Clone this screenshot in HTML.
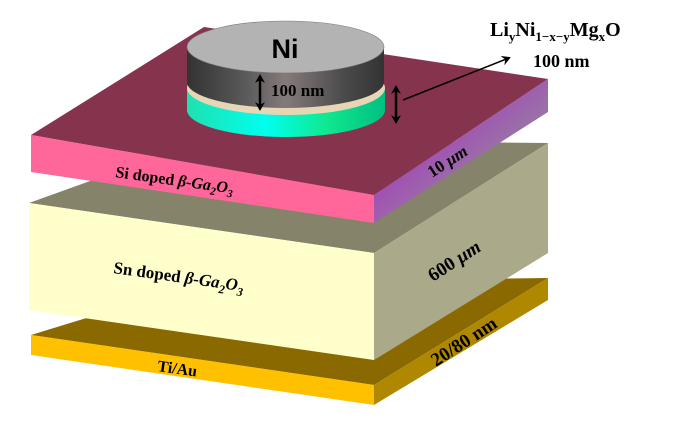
<!DOCTYPE html>
<html><head><meta charset="utf-8"><style>
html,body{margin:0;padding:0;background:#fff;width:674px;height:428px;overflow:hidden}
svg{display:block}
text{font-family:"Liberation Serif",serif;font-weight:bold;fill:#000}
</style></head><body>
<svg width="674" height="428" viewBox="0 0 674 428" xmlns="http://www.w3.org/2000/svg">
<defs>
<linearGradient id="gside" x1="0" y1="0" x2="1" y2="0">
<stop offset="0" stop-color="#333"/><stop offset="0.3" stop-color="#5a5a5a"/><stop offset="0.5" stop-color="#857a7a"/><stop offset="0.8" stop-color="#4a4a4a"/><stop offset="1" stop-color="#333"/>
</linearGradient>
<linearGradient id="cside" x1="0" y1="0" x2="1" y2="0">
<stop offset="0" stop-color="#20e0b0"/><stop offset="0.4" stop-color="#00ffee"/><stop offset="0.7" stop-color="#10e890"/><stop offset="1" stop-color="#00c080"/>
</linearGradient>
<linearGradient id="mside" x1="0" y1="0" x2="1" y2="1">
<stop offset="0" stop-color="#b010c8"/><stop offset="0.6" stop-color="#9a70a8"/><stop offset="1" stop-color="#a0a0a0"/>
</linearGradient>
<marker id="ah" markerWidth="10" markerHeight="10" refX="7" refY="5" orient="auto-start-reverse" markerUnits="userSpaceOnUse"><path d="M0,0 L9,5 L0,10 L3,5 Z" fill="#000"/></marker>
</defs>

<!-- Ti/Au -->
<polygon points="31,335 204,282 548,278 374,385" fill="#8a6a00"/>
<polygon points="31,335 374,385 374,405 31,355" fill="#ffc000"/>
<polygon points="374,385 548,278 548,300 374,405" fill="#b08800"/>

<!-- Sn layer -->
<polygon points="29,203 204,140 548,143 374,253" fill="#85836a"/>
<polygon points="29,203 374,253 374,360 29,310" fill="#ffffcc"/>
<polygon points="374,253 548,143 548,253 374,360" fill="#aaa98a"/>

<!-- Si layer -->
<polygon points="31,135 204,27 548,79 374,195" fill="#86344e"/>
<polygon points="31,135 374,195 374,223 31,172" fill="#ff6699"/>
<polygon points="374,195 548,79 548,112 374,223" fill="url(#mside)"/>

<!-- cyan/beige disc -->
<path d="M187,88 L187,110 A99,27 0 0 0 385,110 L385,88 Z" fill="url(#cside)"/>
<ellipse cx="286" cy="88" rx="99" ry="27" fill="#e6d6b6"/>
<!-- Ni disc -->
<path d="M187,47 L187,82 A98.5,26 0 0 0 384,82 L384,47 Z" fill="url(#gside)"/>
<ellipse cx="285.5" cy="47" rx="98.5" ry="26" fill="#b3b3b3" stroke="#777" stroke-width="0.6"/>
<text x="285" y="58" font-size="27" text-anchor="middle" style="font-family:'Liberation Sans',sans-serif">Ni</text>

<!-- arrows -->
<line x1="260" y1="76" x2="260" y2="109" stroke="#000" stroke-width="2.5" marker-end="url(#ah)" marker-start="url(#ah)"/>
<text x="271" y="96" font-size="17">100 nm</text>
<line x1="396" y1="87" x2="396" y2="122" stroke="#000" stroke-width="2.5" marker-end="url(#ah)" marker-start="url(#ah)"/>
<line x1="403" y1="100" x2="509" y2="58" stroke="#000" stroke-width="1.5" marker-end="url(#ah)"/>

<text x="490" y="36" font-size="20">Li<tspan font-size="13" dy="5">y</tspan><tspan dy="-5">Ni</tspan><tspan font-size="13" dy="5">1−x−y</tspan><tspan dy="-5">Mg</tspan><tspan font-size="13" dy="5">x</tspan><tspan dy="-5">O</tspan></text>
<text x="533" y="67" font-size="18">100 nm</text>

<text transform="translate(115,177) rotate(8)" font-size="16">Si doped <tspan font-style="italic">β-Ga</tspan><tspan font-style="italic" font-size="11" dy="4">2</tspan><tspan font-style="italic" dy="-4">O</tspan><tspan font-style="italic" font-size="11" dy="4">3</tspan></text>
<text transform="translate(432,178) rotate(-33)" font-size="17">10 <tspan font-style="italic">μm</tspan></text>

<text transform="translate(113,273) rotate(8)" font-size="17">Sn doped <tspan font-style="italic">β-Ga</tspan><tspan font-style="italic" font-size="12" dy="5">2</tspan><tspan font-style="italic" dy="-5">O</tspan><tspan font-style="italic" font-size="12" dy="5">3</tspan></text>
<text transform="translate(433,282) rotate(-33)" font-size="19">600 <tspan font-style="italic">μm</tspan></text>

<text transform="translate(157,371) rotate(8)" font-size="16">Ti/Au</text>
<text transform="translate(436,367) rotate(-33)" font-size="19">20/80 nm</text>
</svg>
</body></html>
